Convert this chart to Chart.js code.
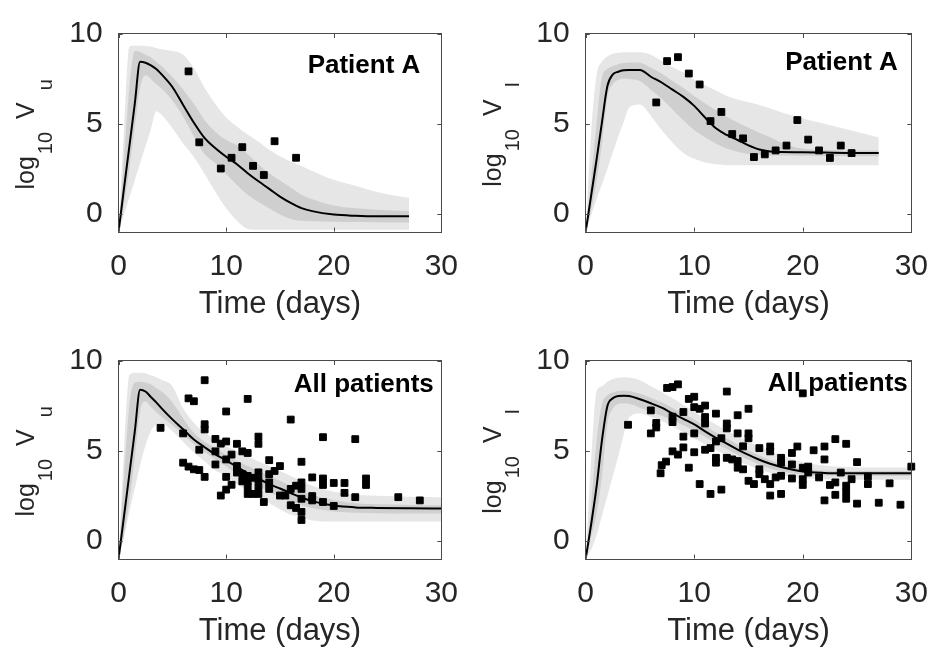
<!DOCTYPE html>
<html>
<head>
<meta charset="utf-8">
<title>Viral load fits</title>
<script src="https://cdn.jsdelivr.net/npm/chart.js@4.4.0/dist/chart.umd.min.js"></script>
<style>
  body { margin: 0; background: #fff; }
  #wrap { position: relative; width: 945px; height: 654px; overflow: hidden; }
  #wrap canvas { position: absolute; }
</style>
</head>
<body>
<div id="wrap">
  <canvas id="vuA" width="475" height="327" style="left:0;top:0"></canvas>
  <canvas id="viA" width="475" height="327" style="left:470px;top:0"></canvas>
  <canvas id="vuAll" width="475" height="327" style="left:0;top:327px"></canvas>
  <canvas id="viAll" width="475" height="327" style="left:470px;top:327px"></canvas>
</div>
<script>
// axis ticks
const timeTicks = [0, 10, 20, 30];
const logTicks = [0, 5, 10];

// time grids of the simulated curves (days)
const timeA = [0, 0.5, 1, 1.5, 2, 2.5, 3, 3.5, 4, 5, 6, 7, 8, 9, 10, 11, 12, 13, 14, 15, 16, 17, 18, 20, 22, 24, 27];
const timeAll = [0, 0.5, 1, 1.5, 2, 2.5, 3, 3.5, 4, 5, 6, 7, 8, 9, 10, 11, 12, 13, 14, 15, 16, 17, 18, 20, 22, 24, 27, 30];

// patient A, log10 Vu
const vuA_med = [-1, 1.4, 3.75, 6.1, 8.45, 8.4, 8.25, 8.05, 7.75, 7.05, 6.05, 5.06, 4.2, 3.64, 3.17, 2.75, 2.25, 1.8, 1.38, 0.95, 0.6, 0.31, 0.14, -0.05, -0.12, -0.15, -0.15];
const vuA_inHi = [-1, 3.0, 7.0, 9.05, 9.0, 8.85, 8.7, 8.45, 8.2, 7.6, 6.9, 6.1, 5.2, 4.55, 4.1, 3.8, 3.3, 2.75, 2.25, 1.85, 1.45, 1.05, 0.8, 0.45, 0.3, 0.22, 0.15];
const vuA_inLo = [-1, 0.5, 2.5, 4.8, 7.0, 7.7, 7.5, 7.2, 6.95, 6.3, 5.4, 4.3, 3.3, 2.8, 2.2, 1.6, 1.05, 0.65, 0.3, -0.05, -0.3, -0.4, -0.42, -0.45, -0.47, -0.48, -0.5];
const vuA_outHi = [-1, 4.7, 9.3, 9.35, 9.35, 9.33, 9.3, 9.22, 9.15, 9.05, 8.85, 8.1, 7.0, 6.1, 5.35, 4.85, 4.4, 4.0, 3.55, 3.2, 2.9, 2.65, 2.38, 1.88, 1.55, 1.2, 0.87];
const vuA_outLo = [-1, -0.05, 0.9, 1.85, 2.8, 3.75, 4.7, 5.7, 5.5, 4.75, 3.9, 3.15, 2.2, 1.2, 0.3, -0.4, -0.85, -0.9, -0.9, -0.9, -0.9, -0.9, -0.9, -0.9, -0.9, -0.9, -0.9];
const vuA_obsT = [6.5, 7.5, 9.5, 10.5, 11.5, 12.5, 13.5, 14.5, 16.5];
const vuA_obsV = [7.92, 3.97, 2.51, 3.11, 3.7, 2.66, 2.15, 4.03, 3.11];

// patient A, log10 VI
const viA_med = [-1, 1.0, 3.0, 5.1, 7.1, 7.75, 7.9, 7.98, 8.0, 8.0, 7.62, 7.3, 6.9, 6.5, 6.0, 5.35, 4.75, 4.38, 4.1, 3.8, 3.57, 3.46, 3.43, 3.42, 3.4, 3.38, 3.37];
const viA_inHi = [-1, 2.0, 5.0, 7.6, 8.05, 8.2, 8.32, 8.38, 8.42, 8.4, 8.12, 7.8, 7.38, 7.0, 6.55, 6.15, 5.75, 5.4, 5.07, 4.78, 4.5, 4.25, 3.95, 3.62, 3.55, 3.52, 3.52];
const viA_inLo = [-1, 0.2, 1.8, 3.9, 6.5, 7.2, 7.45, 7.52, 7.5, 7.38, 6.9, 6.4, 5.8, 5.2, 4.65, 4.25, 3.9, 3.62, 3.45, 3.32, 3.27, 3.24, 3.23, 3.22, 3.21, 3.2, 3.19];
const viA_outHi = [-1, 4.5, 7.7, 8.45, 8.75, 8.9, 8.95, 8.98, 8.98, 8.98, 8.85, 8.5, 8.15, 7.85, 7.45, 7.15, 6.85, 6.55, 6.35, 6.2, 6.05, 5.85, 5.65, 5.3, 5.0, 4.7, 4.24];
const viA_outLo = [-1, -0.1, 0.8, 1.65, 2.5, 3.4, 4.3, 5.1, 5.9, 6.07, 5.45, 4.65, 3.95, 3.38, 3.05, 2.85, 2.75, 2.7, 2.7, 2.7, 2.7, 2.7, 2.7, 2.7, 2.7, 2.7, 2.7];
const viA_obsT = [6.5, 7.5, 8.5, 9.5, 10.5, 11.5, 12.5, 13.5, 14.5, 15.5, 16.5, 17.5, 18.5, 19.5, 20.5, 21.5, 22.5, 23.5, 24.5];
const viA_obsV = [6.19, 8.49, 8.71, 7.8, 7.19, 5.15, 5.66, 4.43, 4.19, 3.15, 3.3, 3.52, 3.79, 5.21, 4.12, 3.52, 3.1, 3.79, 3.37];

// all patients, log10 Vu
const vuAll_med = [-1, 1.35, 3.7, 6.05, 8.4, 8.3, 8.0, 7.7, 7.36, 6.75, 6.2, 5.63, 5.2, 4.8, 4.47, 4.1, 3.75, 3.45, 3.15, 2.9, 2.65, 2.4, 2.2, 1.95, 1.85, 1.82, 1.8, 1.79];
const vuAll_inHi = [-1, 3.5, 7.5, 8.8, 8.85, 8.8, 8.7, 8.5, 8.3, 7.7, 6.8, 6.0, 5.5, 5.15, 4.78, 4.45, 4.15, 3.87, 3.6, 3.33, 3.06, 2.78, 2.55, 2.26, 2.08, 2.02, 1.99, 1.97];
const vuAll_inLo = [-1, 0.3, 2.2, 4.6, 7.2, 7.75, 7.45, 7.15, 6.9, 6.42, 5.9, 5.37, 4.93, 4.52, 4.13, 3.73, 3.37, 3.04, 2.7, 2.43, 2.2, 1.95, 1.82, 1.62, 1.55, 1.52, 1.51, 1.51];
const vuAll_outHi = [-1, 5.0, 9.2, 9.34, 9.35, 9.32, 9.2, 9.1, 8.95, 8.6, 7.35, 6.55, 6.02, 5.6, 5.25, 4.97, 4.7, 4.4, 4.14, 3.87, 3.6, 3.32, 3.05, 2.72, 2.55, 2.5, 2.45, 2.42];
const vuAll_outLo = [-1, 0.2, 1.6, 2.9, 4.2, 5.3, 6.1, 6.45, 6.5, 6.1, 5.5, 4.9, 4.4, 3.9, 3.62, 3.15, 2.8, 2.45, 2.1, 1.75, 1.45, 1.3, 1.12, 1.06, 1.06, 1.06, 1.06, 1.06];
const vuAll_obsT = [3.9, 6.0, 6.0, 6.5, 6.5, 7.0, 7.0, 7.5, 7.5, 8.0, 8.0, 8.0, 8.0, 9.0, 9.0, 9.0, 9.5, 9.5, 10.0, 10.0, 10.0, 10.0, 10.0, 10.5, 10.5, 11.0, 11.0, 11.0, 11.5, 11.5, 11.5, 12.0, 12.0, 12.0, 12.0, 12.0, 12.0, 12.5, 12.5, 13.0, 13.0, 13.0, 13.0, 13.0, 13.0, 13.5, 14.0, 14.0, 14.0, 14.0, 14.5, 15.0, 15.0, 15.5, 16.0, 16.0, 16.0, 16.5, 16.5, 17.0, 17.0, 17.0, 17.0, 17.0, 17.0, 18.0, 18.0, 18.0, 19.0, 19.0, 19.0, 19.0, 20.0, 20.0, 21.0, 21.0, 22.0, 22.0, 23.0, 23.0, 26.0, 28.0];
const vuAll_obsV = [6.28, 5.97, 4.34, 7.92, 4.12, 7.76, 3.97, 5.06, 3.93, 8.93, 6.48, 6.19, 3.55, 5.66, 4.97, 4.24, 5.4, 2.51, 7.19, 5.52, 4.52, 3.55, 2.84, 4.79, 3.11, 5.39, 4.15, 3.79, 4.97, 3.7, 3.3, 7.89, 4.88, 3.6, 3.3, 3.0, 2.6, 3.5, 2.6, 5.79, 5.39, 3.8, 3.4, 3.0, 2.6, 2.15, 4.48, 3.7, 3.24, 2.88, 3.88, 4.15, 2.51, 2.51, 6.74, 2.88, 1.97, 3.06, 1.82, 4.39, 3.24, 2.88, 2.33, 1.6, 1.15, 3.52, 2.48, 2.24, 5.76, 3.46, 3.1, 2.15, 3.21, 1.93, 3.21, 2.66, 5.65, 2.42, 3.46, 3.1, 2.42, 2.24];

// all patients, log10 VI
const viAll_med = [-1, 0.9, 3.0, 5.6, 7.5, 7.92, 8.05, 8.07, 8.05, 7.87, 7.65, 7.4, 7.08, 6.78, 6.47, 6.08, 5.72, 5.4, 5.07, 4.77, 4.5, 4.28, 4.1, 3.85, 3.77, 3.75, 3.75, 3.75];
const viAll_inHi = [-1, 2.0, 5.5, 7.6, 8.1, 8.25, 8.33, 8.35, 8.33, 8.17, 7.95, 7.7, 7.38, 7.07, 6.75, 6.38, 6.02, 5.68, 5.35, 5.03, 4.74, 4.48, 4.28, 3.99, 3.9, 3.88, 3.87, 3.87];
const viAll_inLo = [-1, 0.2, 1.5, 3.6, 6.5, 7.35, 7.6, 7.65, 7.62, 7.4, 7.18, 6.95, 6.7, 6.42, 6.12, 5.78, 5.42, 5.1, 4.78, 4.5, 4.22, 4.02, 3.86, 3.67, 3.62, 3.6, 3.6, 3.6];
const viAll_outHi = [-1, 4.5, 8.3, 8.6, 8.85, 9.0, 9.07, 9.1, 9.08, 8.93, 8.6, 8.28, 7.92, 7.55, 7.18, 6.8, 6.47, 6.13, 5.8, 5.5, 5.23, 4.96, 4.75, 4.37, 4.18, 4.1, 4.07, 4.06];
const viAll_outLo = [-1, -0.5, 0.3, 1.4, 2.5, 3.6, 4.7, 5.9, 6.85, 7.08, 6.9, 6.67, 6.35, 6.02, 5.69, 5.35, 5.04, 4.73, 4.43, 4.2, 3.98, 3.76, 3.64, 3.47, 3.42, 3.4, 3.39, 3.39];
const viAll_obsT = [3.9, 6.0, 6.0, 6.5, 6.5, 7.0, 6.9, 7.4, 7.5, 8.0, 8.5, 8.0, 8.0, 8.0, 8.5, 9.0, 9.0, 9.0, 9.5, 10.0, 10.0, 9.5, 10.0, 10.0, 10.5, 11.0, 11.0, 11.0, 10.5, 11.0, 11.5, 11.5, 12.0, 12.5, 12.0, 12.0, 12.0, 12.5, 13.0, 13.0, 13.0, 13.0, 13.5, 14.0, 14.0, 14.0, 14.0, 14.5, 14.5, 15.0, 15.0, 15.0, 15.0, 15.5, 16.0, 16.0, 16.0, 16.5, 17.0, 17.0, 17.0, 17.0, 18.0, 18.0, 18.0, 17.5, 18.0, 19.0, 19.0, 19.0, 19.5, 20.0, 20.0, 20.0, 20.0, 20.5, 20.5, 21.0, 21.5, 22.0, 22.0, 22.0, 22.5, 23.0, 23.0, 23.0, 23.5, 24.0, 24.0, 24.0, 24.0, 24.5, 25.0, 25.0, 26.0, 26.0, 27.0, 28.0, 29.0, 30.0];
const viAll_obsV = [6.45, 7.25, 5.97, 6.55, 6.3, 4.2, 3.75, 4.4, 8.5, 8.55, 8.7, 6.9, 6.6, 4.97, 4.79, 5.19, 5.79, 7.16, 4.06, 4.92, 5.97, 7.89, 8.01, 7.43, 7.34, 7.52, 6.88, 6.52, 3.15, 5.06, 5.15, 2.6, 5.52, 5.7, 7.07, 4.61, 4.34, 2.84, 8.3, 6.52, 6.25, 4.61, 4.52, 4.43, 4.06, 6.98, 5.97, 5.25, 3.97, 7.34, 5.97, 5.7, 3.33, 3.15, 5.15, 3.97, 3.7, 3.42, 3.15, 5.24, 4.97, 2.51, 4.61, 4.34, 3.61, 3.52, 2.6, 4.88, 4.24, 3.46, 5.24, 4.06, 3.42, 3.1, 8.2, 4.12, 3.79, 5.03, 3.52, 5.24, 4.52, 2.24, 3.1, 3.24, 2.55, 5.65, 3.79, 5.39, 3.06, 2.7, 2.33, 3.42, 4.37, 2.06, 3.57, 3.15, 2.11, 3.19, 2.0, 4.12];

const FONT = '"Liberation Sans", Arial, Helvetica, sans-serif';
const INK = '#262626';
const FRAME = '#4a4a4a';
const LIGHT_BAND = '#e6e6e6';
const DARK_BAND = '#cfcfcf';
const Y_AXIS_W = 80;
const X_AXIS_H = 91;

function toPoints(xs, ys) {
  return xs.map((x, i) => ({ x: x, y: ys[i] }));
}

// axis label "log10 V?" with MATLAB-style subscripts, drawn rotated
function drawYLabel(ctx, sub, x, y) {
  const parts = [
    { text: 'log', size: 25, drop: 0, gap: 2 },
    { text: '10', size: 20, drop: 18, gap: 13 },
    { text: 'V', size: 25, drop: 0, gap: 12 },
    { text: sub, size: 20, drop: 18, gap: 0 }
  ];
  let total = 0;
  parts.forEach(p => {
    ctx.font = p.size + 'px ' + FONT;
    p.w = ctx.measureText(p.text).width;
    total += p.w + p.gap;
  });
  ctx.save();
  ctx.translate(x, y);
  ctx.rotate(-Math.PI / 2);
  ctx.fillStyle = INK;
  ctx.textAlign = 'left';
  ctx.textBaseline = 'alphabetic';
  let pos = -total / 2;
  parts.forEach(p => {
    ctx.font = p.size + 'px ' + FONT;
    ctx.fillText(p.text, pos, p.drop);
    pos += p.w + p.gap;
  });
  ctx.restore();
}

// box, inward ticks on all four sides, caption and y label
const panelDecor = {
  id: 'panelDecor',
  afterDatasetsDraw(chart, args, opts) {
    const { ctx, chartArea: a } = chart;
    const xs = chart.scales.x, ys = chart.scales.y;
    const len = 4;
    ctx.save();
    ctx.strokeStyle = FRAME;
    ctx.lineWidth = 1;
    ctx.beginPath();
    xs.ticks.forEach(t => {
      const px = Math.round(xs.getPixelForValue(t.value)) + 0.5;
      ctx.moveTo(px, a.bottom); ctx.lineTo(px, a.bottom - len);
      ctx.moveTo(px, a.top); ctx.lineTo(px, a.top + len);
    });
    ys.ticks.forEach(t => {
      const py = Math.round(ys.getPixelForValue(t.value)) + 0.5;
      ctx.moveTo(a.left, py); ctx.lineTo(a.left + len, py);
      ctx.moveTo(a.right, py); ctx.lineTo(a.right - len, py);
    });
    ctx.stroke();
    const l = Math.round(a.left) - 0.5, t = Math.round(a.top) - 0.5;
    ctx.strokeRect(l, t, Math.round(a.right) - Math.round(a.left) + 1, Math.round(a.bottom) - Math.round(a.top) + 1);
    ctx.restore();
  },
  afterDraw(chart, args, opts) {
    const { ctx, chartArea: a } = chart;
    ctx.save();
    ctx.fillStyle = '#000';
    ctx.font = 'bold 26px ' + FONT;
    ctx.textAlign = 'right';
    ctx.textBaseline = 'alphabetic';
    ctx.fillText(opts.caption, a.right - opts.captionInset, a.top + opts.captionBase);
    ctx.restore();
    drawYLabel(ctx, opts.sub, a.left - 84.5, (a.top + a.bottom) / 2 + 1.5);
  }
};

function bands(time, hi, lo, color, order) {
  return [
    { data: toPoints(time, hi), fill: '+1', backgroundColor: color, borderColor: 'transparent', borderWidth: 0, pointRadius: 0, order: order },
    { data: toPoints(time, lo), fill: false, borderColor: 'transparent', borderWidth: 0, pointRadius: 0, order: order }
  ];
}

function makePanel(id, p) {
  const W = 475, H = 327;
  const top = 30, bottom = 231.6;
  new Chart(document.getElementById(id), {
    type: 'line',
    data: {
      datasets: [
        {
          data: toPoints(p.obsT, p.obsV), showLine: false, pointStyle: 'rect',
          pointRadius: 4.8, pointBackgroundColor: '#000', pointBorderColor: '#000',
          pointBorderWidth: 1, clip: false, order: 0
        },
        { data: toPoints(p.time, p.med), borderColor: '#000', borderWidth: 2, pointRadius: 0, fill: false, order: 1 },
        ...bands(p.time, p.inHi, p.inLo, DARK_BAND, 2),
        ...bands(p.time, p.outHi, p.outLo, LIGHT_BAND, 3)
      ]
    },
    options: {
      responsive: false,
      animation: false,
      devicePixelRatio: 1,
      layout: { padding: { left: p.left - Y_AXIS_W, right: W - p.right, top: top, bottom: H - bottom - X_AXIS_H } },
      elements: { line: { cubicInterpolationMode: 'monotone' } },
      plugins: {
        legend: { display: false },
        tooltip: { enabled: false },
        panelDecor: { caption: p.caption, captionInset: p.captionInset, captionBase: p.captionBase, sub: p.sub }
      },
      scales: {
        x: {
          type: 'linear', min: 0, max: 30,
          afterBuildTicks: s => { s.ticks = timeTicks.map(v => ({ value: v })); },
          afterFit: s => { s.height = X_AXIS_H; },
          grid: { display: false, drawTicks: false },
          border: { display: false },
          ticks: { color: INK, font: { family: FONT, size: 30 }, padding: 17, maxRotation: 0, autoSkip: false },
          title: { display: true, text: 'Time (days)', color: INK, font: { family: FONT, size: 31 }, padding: 0 }
        },
        y: {
          type: 'linear', min: -1, max: 10,
          afterBuildTicks: s => { s.ticks = logTicks.map(v => ({ value: v })); },
          afterFit: s => { s.width = Y_AXIS_W; },
          grid: { display: false, drawTicks: false },
          border: { display: false },
          ticks: { color: INK, font: { family: FONT, size: 30 }, padding: 16 }
        }
      }
    },
    plugins: [panelDecor]
  });
}

makePanel('vuA', {
  left: 118.6, right: 454.5, time: timeA,
  med: vuA_med, inHi: vuA_inHi, inLo: vuA_inLo, outHi: vuA_outHi, outLo: vuA_outLo,
  obsT: vuA_obsT, obsV: vuA_obsV,
  caption: 'Patient A', captionInset: 21, captionBase: 39, sub: 'u'
});
makePanel('viA', {
  left: 115.7, right: 450.7, time: timeA,
  med: viA_med, inHi: viA_inHi, inLo: viA_inLo, outHi: viA_outHi, outLo: viA_outLo,
  obsT: viA_obsT, obsV: viA_obsV,
  caption: 'Patient A', captionInset: 13.5, captionBase: 35.7, sub: 'I'
});
makePanel('vuAll', {
  left: 118.6, right: 454.5, time: timeAll,
  med: vuAll_med, inHi: vuAll_inHi, inLo: vuAll_inLo, outHi: vuAll_outHi, outLo: vuAll_outLo,
  obsT: vuAll_obsT, obsV: vuAll_obsV,
  caption: 'All patients', captionInset: 7.5, captionBase: 30.7, sub: 'u'
});
makePanel('viAll', {
  left: 115.7, right: 450.7, time: timeAll,
  med: viAll_med, inHi: viAll_inHi, inLo: viAll_inLo, outHi: viAll_outHi, outLo: viAll_outLo,
  obsT: viAll_obsT, obsV: viAll_obsV,
  caption: 'All patients', captionInset: 3.5, captionBase: 30, sub: 'I'
});
</script>
</body>
</html>
